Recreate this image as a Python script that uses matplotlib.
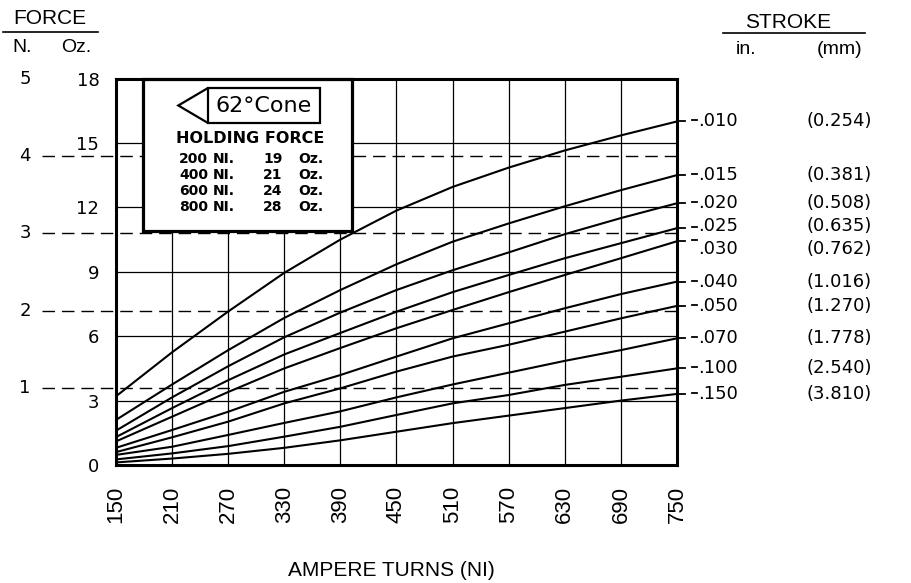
import matplotlib
matplotlib.use('Agg')
import matplotlib.pyplot as plt
import matplotlib.transforms as mtransforms
from matplotlib.patches import Rectangle, Polygon
from matplotlib.lines import Line2D

plt.rcParams['font.family'] = ['DejaVu Sans']

# ---- data ----
ampere_turns = [150, 210, 270, 330, 390, 450, 510, 570, 630, 690, 750]
stroke_in = ['.010', '.015', '.020', '.025', '.030', '.040', '.050', '.070', '.100', '.150']
stroke_mm = ['(0.254)', '(0.381)', '(0.508)', '(0.635)', '(0.762)',
             '(1.016)', '(1.270)', '(1.778)', '(2.540)', '(3.810)']
# force in oz for each stroke, at each ampere-turn value
force_010 = [3.2, 5.25, 7.15, 8.95, 10.5, 11.85, 12.95, 13.85, 14.65, 15.35, 16.0]
force_015 = [2.1, 3.75, 5.35, 6.85, 8.15, 9.35, 10.4, 11.25, 12.05, 12.8, 13.5]
force_020 = [1.6, 3.15, 4.6, 5.95, 7.1, 8.15, 9.07, 9.9, 10.75, 11.5, 12.19]
force_025 = [1.3, 2.65, 3.95, 5.15, 6.15, 7.14, 8.05, 8.85, 9.63, 10.33, 11.03]
force_030 = [1.1, 2.25, 3.4, 4.5, 5.45, 6.37, 7.22, 8.05, 8.85, 9.63, 10.42]
force_040 = [0.8, 1.63, 2.48, 3.41, 4.19, 5.05, 5.9, 6.6, 7.3, 7.96, 8.54]
force_050 = [0.6, 1.29, 2.02, 2.87, 3.57, 4.35, 5.05, 5.6, 6.21, 6.83, 7.41]
force_070 = [0.47, 0.85, 1.4, 1.96, 2.5, 3.15, 3.75, 4.3, 4.85, 5.35, 5.9]
force_100 = [0.26, 0.54, 0.88, 1.32, 1.78, 2.33, 2.87, 3.26, 3.73, 4.11, 4.5]
force_150 = [0.12, 0.3, 0.52, 0.8, 1.15, 1.55, 1.95, 2.3, 2.65, 3.0, 3.31]
forces = [force_010, force_015, force_020, force_025, force_030,
          force_040, force_050, force_070, force_100, force_150]

oz_ticks = [0, 3, 6, 9, 12, 15, 18]
newton_ticks = [1, 2, 3, 4, 5]
OZ_PER_N = 3.597

holding_ni = ['200', '400', '600', '800']
holding_oz = ['19', '21', '24', '28']

W, H = 912, 583


def fx(px):
    return px / W


def fy(py):
    return 1 - py / H


fig = plt.figure(figsize=(9.12, 5.83), dpi=100)
ax = fig.add_axes([fx(116), fy(465), 561 / W, 386.5 / H])
ax.set_xlim(150, 750)
ax.set_ylim(0, 18)

ax.set_xticks(ampere_turns)
ax.set_xticklabels([str(v) for v in ampere_turns], rotation=90,
                   fontsize=16, family='Liberation Sans')
ax.set_yticks(oz_ticks)
ax.set_yticklabels([str(v) for v in oz_ticks], fontsize=13)
ax.tick_params(length=0)
ax.tick_params(axis='x', pad=15)
ax.tick_params(axis='y', pad=12)
ax.grid(True, color='black', lw=0.9)
for s in ax.spines.values():
    s.set_linewidth(2.2)
    s.set_zorder(6)

# curves
for f in forces:
    ax.plot(ampere_turns, f, color='black', lw=1.5, zorder=3)

trans = mtransforms.blended_transform_factory(ax.transAxes, ax.transData)

# newton scale with dashed lines
for n in newton_ticks:
    y = n * OZ_PER_N
    if n < 5:
        ax.plot([-0.132, 1.0], [y, y], transform=trans, color='black', lw=1.0,
                ls=(0, (9, 5)), clip_on=False, zorder=2)
    ax.text(-0.162, min(y, 18), str(n), transform=trans, ha='center',
            va='center', fontsize=13)

# stroke labels at the curve ends
for i, f in enumerate(forces):
    end = f[-1]
    # tick out of the frame and the short leader dash
    ax.plot([1.0, 1.0143], [end, end], transform=trans, color='black',
            lw=1.3, clip_on=False)
    ax.plot([1.0267, 1.0357], [end + 0.05, end + 0.05], transform=trans,
            color='black', lw=1.3, clip_on=False)
    y_txt = end
    if stroke_in[i] == '.025':
        y_txt = end + 0.1
    if stroke_in[i] == '.030':
        y_txt = end - 0.38
    ax.text(1.0375, y_txt, stroke_in[i], transform=trans, ha='left',
            va='center', fontsize=13)
    ax.text(1.2317, y_txt, stroke_mm[i], transform=trans, ha='left',
            va='center', fontsize=13)


# inset box
def axf(px):
    return (px - 116) / 561


def ayf(py):
    return (465 - py) / 386.5


ax.add_patch(Rectangle((axf(143.3), ayf(231)), axf(351.7) - axf(143.3),
                       1 - ayf(231), transform=ax.transAxes, fc='white',
                       ec='black', lw=2.3, zorder=5, clip_on=False))
ax.add_patch(Rectangle((axf(208), ayf(123)), axf(320) - axf(208),
                       ayf(88) - ayf(123), transform=ax.transAxes, fc='none',
                       ec='black', lw=1.6, zorder=6))
ax.add_patch(Polygon([(axf(208), ayf(88)), (axf(178.3), ayf(105.5)),
                      (axf(208), ayf(123))], closed=False, fill=False,
                     transform=ax.transAxes, ec='black', lw=1.6, zorder=6))
ax.text(axf(264), ayf(106), '62°Cone', transform=ax.transAxes, ha='center',
        va='center', fontsize=16, zorder=7)
ax.text(axf(250), ayf(138), 'HOLDING FORCE', transform=ax.transAxes,
        ha='center', va='center', fontsize=11.5, fontweight='bold', zorder=7)
for i in range(4):
    yy = ayf(159 + i * 16)
    ax.text(axf(208), yy, holding_ni[i], transform=ax.transAxes, ha='right',
            va='center', fontsize=10, fontweight='bold', zorder=7)
    ax.text(axf(213), yy, 'NI.', transform=ax.transAxes, ha='left',
            va='center', fontsize=10, fontweight='bold', zorder=7)
    ax.text(axf(273), yy, holding_oz[i], transform=ax.transAxes, ha='center',
            va='center', fontsize=10, fontweight='bold', zorder=7)
    ax.text(axf(298), yy, 'Oz.', transform=ax.transAxes, ha='left',
            va='center', fontsize=10, fontweight='bold', zorder=7)

# headers
hdr = dict(family='Liberation Sans', ha='center', va='center')
fig.text(fx(50), fy(19), 'FORCE', fontsize=15, **hdr)
fig.add_artist(Line2D([fx(3), fx(98)], [fy(32), fy(32)], color='black', lw=1.2))
fig.text(fx(22), fy(48), 'N.', fontsize=14, **hdr)
fig.text(fx(76), fy(48), 'Oz.', fontsize=14, **hdr)
fig.text(fx(788), fy(22), 'STROKE', fontsize=15, **hdr)
fig.add_artist(Line2D([fx(723), fx(865)], [fy(33), fy(33)], color='black', lw=1.2))
fig.text(fx(746), fy(50), 'in.', fontsize=14, **hdr)
fig.text(fx(840), fy(50), '(mm)', fontsize=14, **hdr)
fig.text(fx(391), fy(570), 'AMPERE TURNS (NI)', fontsize=15, **hdr)

fig.savefig('out.png', dpi=100)
